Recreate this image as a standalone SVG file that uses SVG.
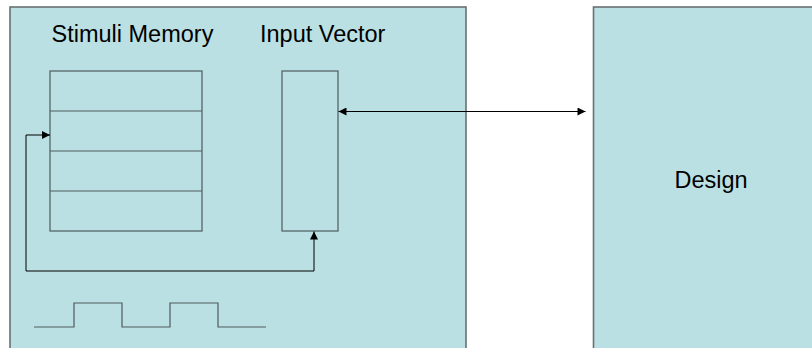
<svg xmlns="http://www.w3.org/2000/svg" width="812" height="348" viewBox="0 0 812 348">
  <style>
    .frame { fill: #BBE0E3; stroke: #6A7072; stroke-width: 1.6; }
    .cell { fill: none; stroke: #4E5A5C; stroke-width: 1.2; }
    .wire { fill: none; stroke: #000; stroke-width: 1; }
    .wave { fill: none; stroke: #4E5A5C; stroke-width: 1.2; }
    .label { font-family: "Liberation Sans", Arial, sans-serif; font-size: 23.5px; fill: #000; }
  </style>
  <defs>
    <marker id="arrow" viewBox="0 0 10 10" refX="10" refY="5" markerWidth="9" markerHeight="8" markerUnits="userSpaceOnUse" orient="auto-start-reverse">
      <path d="M0,0 L10,5 L0,10 z" fill="#000"/>
    </marker>
  </defs>
  <rect width="812" height="348" fill="#FFFFFF"/>

  <g id="testbench">
    <rect class="frame" x="10" y="7" width="456" height="360"/>
    <text class="label" x="51.5" y="42.3">Stimuli Memory</text>
    <text class="label" x="260" y="42.3">Input Vector</text>
  </g>

  <g id="stimuli-memory">
    <rect class="cell" x="50" y="71" width="152" height="160"/>
    <line class="cell" x1="50" y1="111" x2="202" y2="111"/>
    <line class="cell" x1="50" y1="151" x2="202" y2="151"/>
    <line class="cell" x1="50" y1="191" x2="202" y2="191"/>
  </g>

  <g id="input-vector">
    <rect class="cell" x="282" y="71" width="56" height="160"/>
  </g>

  <g id="design">
    <rect class="frame" x="593.5" y="7" width="240" height="360"/>
    <text class="label" x="674.5" y="188">Design</text>
  </g>

  <g id="clock">
    <polyline class="wave" points="34,327 74,327 74,303 122,303 122,327 170,327 170,303 218,303 218,327 266,327"/>
  </g>

  <g id="connectors">
    <line class="wire" x1="338.5" y1="111.5" x2="585.5" y2="111.5" marker-start="url(#arrow)" marker-end="url(#arrow)"/>
    <polyline class="wire" points="314,231.5 314,271 26,271 26,135 50,135" marker-start="url(#arrow)" marker-end="url(#arrow)"/>
  </g>
</svg>
